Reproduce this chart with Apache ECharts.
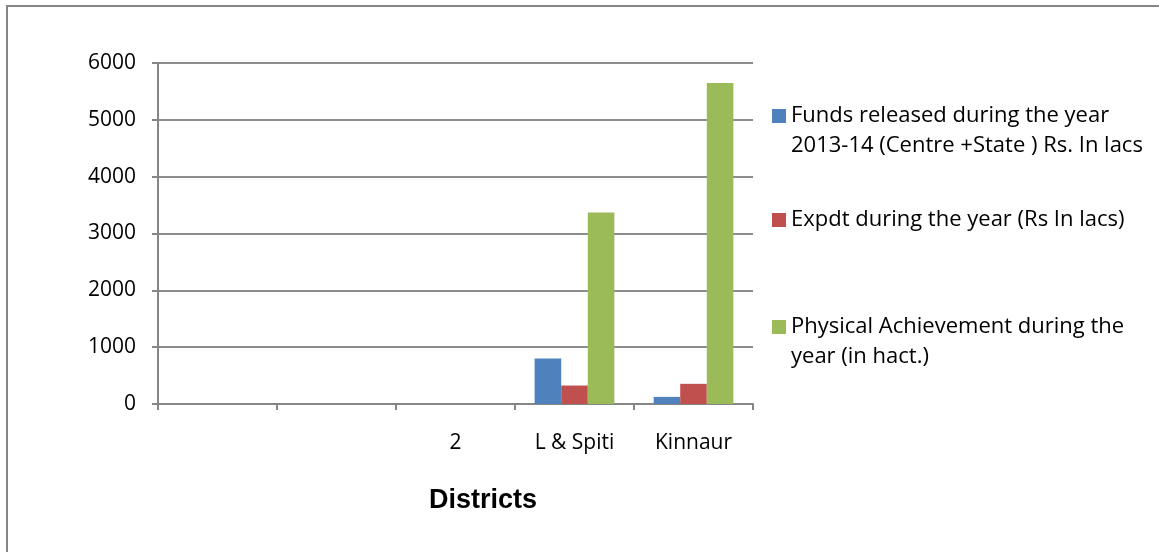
<!DOCTYPE html>
<html>
<head>
<meta charset="utf-8">
<script src="https://cdn.jsdelivr.net/npm/echarts@6/dist/echarts.min.js"></script>
<style>
  html, body { margin: 0; padding: 0; background: #fff; }
  #main { width: 1159px; height: 552px; }
</style>
</head>
<body>
<div id="main"></div>
<script>
// categories on the x axis (first two have no label)
var districts = ['', ' ', '2', 'L & Spiti', 'Kinnaur'];
var seriesNames = [
  'Funds released during the year 2013-14 (Centre +State ) Rs. In lacs',
  'Expdt during the year (Rs In lacs)',
  'Physical Achievement during the year (in hact.)'
];
var funds = [null, null, null, 800, 125];
var expdt = [null, null, null, 325, 355];
var physical = [null, null, null, 3370, 5650];
var yTicks = [0, 1000, 2000, 3000, 4000, 5000, 6000];

var colors = ['#4F81BD', '#C0504D', '#9BBB59'];
// leading blank line keeps the legend icon level with the first text line
var legendLabels = [
  ' \nFunds released during the year\n2013-14 (Centre +State ) Rs. In lacs',
  'Expdt during the year (Rs In lacs)',
  ' \nPhysical Achievement during the\nyear (in hact.)'
];
var legendTops = [66, 200, 277];

var chart = echarts.init(document.getElementById('main'));

var legends = seriesNames.map(function (n, i) {
  return {
    data: [n],
    left: 767,
    top: legendTops[i],
    itemWidth: 14,
    itemHeight: 14,
    itemGap: 0,
    selectedMode: false,
    icon: 'rect',
    formatter: function () { return legendLabels[i]; },
    textStyle: {
      fontFamily: '"Open Sans", sans-serif',
      fontSize: 22,
      color: '#000',
      lineHeight: 30
    }
  };
});

chart.setOption({
  animation: false,
  color: colors,
  graphic: [{
    type: 'rect',
    shape: { x: 7, y: 6, width: 1300, height: 700 },
    style: { fill: 'none', stroke: '#868686', lineWidth: 2 },
    silent: true
  }],
  title: {
    text: 'Districts',
    left: 424,
    top: 482,
    textStyle: {
      fontFamily: '"Liberation Sans", Arial, sans-serif',
      fontSize: 27,
      fontWeight: 'bold',
      color: '#000'
    }
  },
  legend: legends,
  grid: { left: 158, right: 406, top: 63, bottom: 148 },
  xAxis: {
    type: 'category',
    data: districts,
    axisLine: { lineStyle: { color: '#868686', width: 2 } },
    axisTick: { show: true, length: 6, lineStyle: { color: '#868686', width: 2 } },
    axisLabel: {
      margin: 29,
      fontFamily: '"Open Sans", sans-serif',
      fontSize: 21,
      color: '#000'
    }
  },
  yAxis: {
    type: 'value',
    min: yTicks[0],
    max: yTicks[yTicks.length - 1],
    interval: 1000,
    axisLine: { show: true, lineStyle: { color: '#868686', width: 2 } },
    axisTick: { show: true, length: 6, lineStyle: { color: '#868686', width: 2 } },
    splitLine: { lineStyle: { color: '#8c8c8c', width: 2 } },
    axisLabel: {
      margin: 22,
      formatter: function (v) { return String(v); },
      fontFamily: '"Open Sans", sans-serif',
      fontSize: 21,
      color: '#000'
    }
  },
  series: [
    { name: seriesNames[0], type: 'bar', data: funds, barGap: '0%', barCategoryGap: '33%' },
    { name: seriesNames[1], type: 'bar', data: expdt, barGap: '0%', barCategoryGap: '33%' },
    { name: seriesNames[2], type: 'bar', data: physical, barGap: '0%', barCategoryGap: '33%' }
  ]
});
</script>
</body>
</html>
